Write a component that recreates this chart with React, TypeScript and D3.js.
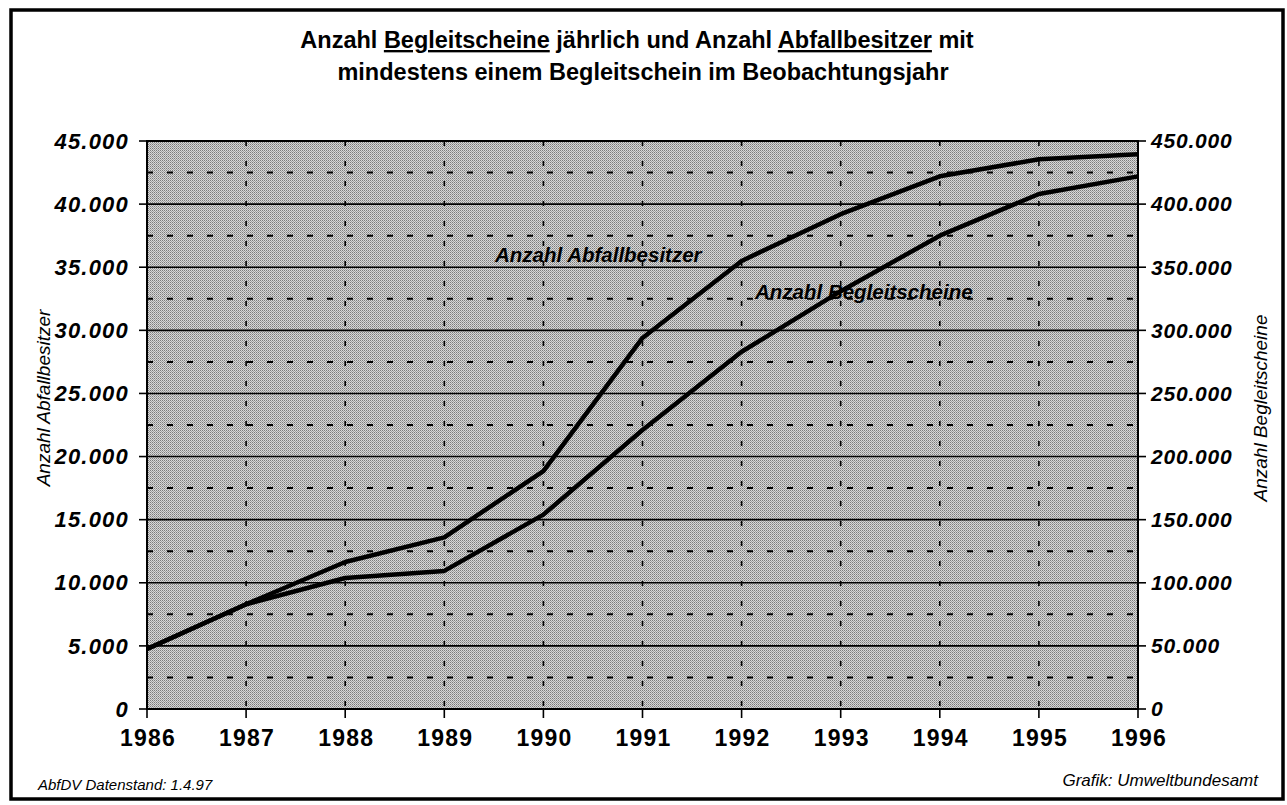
import React from "react";
import * as d3 from "d3";

const years = [1986, 1987, 1988, 1989, 1990, 1991, 1992, 1993, 1994, 1995, 1996];
const abfallbesitzer = [4750, 8300, 11650, 13600, 18850, 29400, 35500, 39200, 42200, 43550, 43950];
const begleitscheine = [47500, 83000, 103800, 109400, 154000, 221000, 283000, 331000, 375000, 408000, 422000];
const leftTicks = [0, 5000, 10000, 15000, 20000, 25000, 30000, 35000, 40000, 45000];
const rightTicks = [0, 50000, 100000, 150000, 200000, 250000, 300000, 350000, 400000, 450000];
const minorTicks = [2500, 7500, 12500, 17500, 22500, 27500, 32500, 37500, 42500];

const W = 1287;
const H = 805;
const M = { left: 147, right: 1138, top: 141, bottom: 709 };

const fmt = (v: number) => (v === 0 ? "0" : d3.format(",")(v).replace(/,/g, "."));

export default function App() {
  const x = d3.scaleLinear().domain([1986, 1996]).range([M.left, M.right]);
  const yL = d3.scaleLinear().domain([0, 45000]).range([M.bottom, M.top]);
  const yR = d3.scaleLinear().domain([0, 450000]).range([M.bottom, M.top]);

  const lineL = d3
    .line<number>()
    .x((_, i) => x(years[i]))
    .y((d) => yL(d));
  const lineR = d3
    .line<number>()
    .x((_, i) => x(years[i]))
    .y((d) => yR(d));

  const font = "'Liberation Sans', Arial, Helvetica, sans-serif";

  return (
    <svg
      width={W}
      height={H}
      style={{ position: "absolute", left: 0, top: 0, background: "#fff" }}
      fontFamily={font}
    >
      <defs>
        <pattern id="stip" width="2" height="2" patternUnits="userSpaceOnUse">
          <rect width="2" height="2" fill="#d8d8d8" />
          <rect x="0" y="0" width="1" height="1" fill="#7c7c7c" />
          <rect x="1" y="1" width="1" height="1" fill="#a0a0a0" />
        </pattern>
      </defs>

      {/* outer frame */}
      <rect x={11} y={10} width={1272} height={789} fill="none" stroke="#000" strokeWidth={3.5} />

      {/* title */}
      <text x={637} y={48} textAnchor="middle" fontSize={23.5} fontWeight="bold">
        Anzahl <tspan textDecoration="underline">Begleitscheine</tspan> jährlich und Anzahl{" "}
        <tspan textDecoration="underline">Abfallbesitzer</tspan> mit
      </text>
      <text x={643} y={80} textAnchor="middle" fontSize={23.5} fontWeight="bold">
        mindestens einem Begleitschein im Beobachtungsjahr
      </text>

      {/* plot background */}
      <rect
        x={M.left}
        y={M.top}
        width={M.right - M.left}
        height={M.bottom - M.top}
        fill="url(#stip)"
      />

      {/* vertical dashed gridlines */}
      {years.slice(1, -1).map((yr) => (
        <line
          key={"v" + yr}
          x1={x(yr)}
          x2={x(yr)}
          y1={M.top}
          y2={M.bottom}
          stroke="#000"
          strokeWidth={1.6}
          strokeDasharray="5 15"
        />
      ))}

      {/* minor horizontal dotted gridlines */}
      {minorTicks.map((t) => (
        <line
          key={"m" + t}
          x1={M.left}
          x2={M.right}
          y1={yL(t)}
          y2={yL(t)}
          stroke="#000"
          strokeWidth={2}
          strokeDasharray="6 14"
        />
      ))}

      {/* major horizontal gridlines */}
      {leftTicks.slice(1).map((t) => (
        <line
          key={"g" + t}
          x1={M.left}
          x2={M.right}
          y1={yL(t)}
          y2={yL(t)}
          stroke="#000"
          strokeWidth={1.6}
        />
      ))}

      {/* plot border */}
      <rect
        x={M.left}
        y={M.top}
        width={M.right - M.left}
        height={M.bottom - M.top}
        fill="none"
        stroke="#000"
        strokeWidth={2}
      />

      {/* left ticks & labels */}
      {leftTicks.map((t) => (
        <g key={"l" + t}>
          <line x1={M.left - 8} x2={M.left} y1={yL(t)} y2={yL(t)} stroke="#000" strokeWidth={1.6} />
          <text
            x={129}
            y={yL(t)}
            dy="0.35em"
            textAnchor="end"
            fontSize={22}
            fontWeight="bold"
            fontStyle="italic"
            letterSpacing={1.2}
          >
            {fmt(t)}
          </text>
        </g>
      ))}

      {/* right ticks & labels */}
      {rightTicks.map((t) => (
        <g key={"r" + t}>
          <line x1={M.right} x2={M.right + 8} y1={yR(t)} y2={yR(t)} stroke="#000" strokeWidth={1.6} />
          <text
            x={1151}
            y={yR(t)}
            dy="0.35em"
            textAnchor="start"
            fontSize={21}
            fontWeight="bold"
            fontStyle="italic"
            letterSpacing={0.8}
          >
            {fmt(t)}
          </text>
        </g>
      ))}

      {/* bottom ticks & labels */}
      {years.map((yr) => (
        <g key={"b" + yr}>
          <line x1={x(yr)} x2={x(yr)} y1={M.bottom} y2={M.bottom + 9} stroke="#000" strokeWidth={1.6} />
          <text x={x(yr) + 1} y={746} textAnchor="middle" fontSize={23} fontWeight="bold" letterSpacing={1.2}>
            {yr}
          </text>
        </g>
      ))}

      {/* axis titles */}
      <text
        transform={`translate(50,398) rotate(-90)`}
        textAnchor="middle"
        fontSize={19}
        fontStyle="italic"
      >
        Anzahl Abfallbesitzer
      </text>
      <text
        transform={`translate(1267,408) rotate(-90)`}
        textAnchor="middle"
        fontSize={19}
        fontStyle="italic"
      >
        Anzahl Begleitscheine
      </text>

      {/* data lines */}
      <path d={lineR(begleitscheine) || ""} fill="none" stroke="#000" strokeWidth={4.5} strokeLinejoin="round" />
      <path d={lineL(abfallbesitzer) || ""} fill="none" stroke="#000" strokeWidth={4.5} strokeLinejoin="round" />

      {/* series labels */}
      <text x={495} y={262} fontSize={20.5} fontWeight="bold" fontStyle="italic">
        Anzahl Abfallbesitzer
      </text>
      <text x={755} y={299} fontSize={20.5} fontWeight="bold" fontStyle="italic">
        Anzahl Begleitscheine
      </text>

      {/* footnotes */}
      <text x={38} y={790} fontSize={15} fontStyle="italic">
        AbfDV Datenstand: 1.4.97
      </text>
      <text x={1258} y={786} textAnchor="end" fontSize={17} fontStyle="italic">
        Grafik: Umweltbundesamt
      </text>
    </svg>
  );
}
